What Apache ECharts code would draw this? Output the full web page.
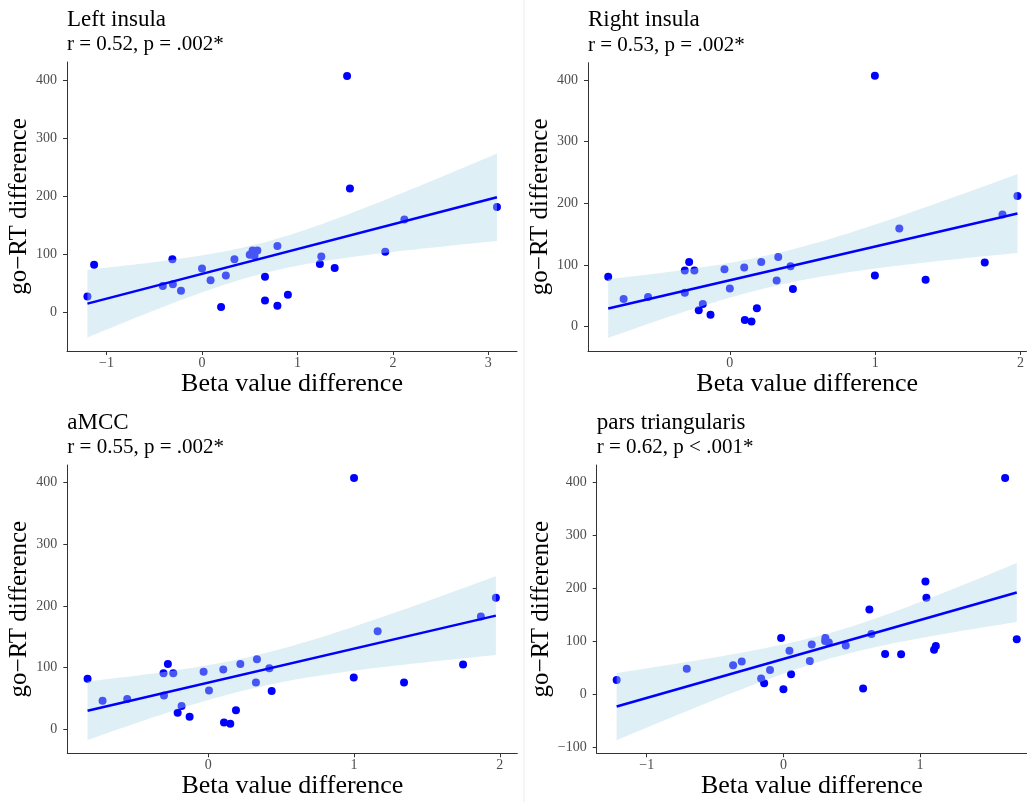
<!DOCTYPE html>
<html>
<head>
<meta charset="utf-8">
<script src="https://cdn.jsdelivr.net/npm/echarts@6/dist/echarts.min.js"></script>
<style>
  html, body { margin: 0; background: #fff; }
  #chart { width: 1027px; height: 802px; }
</style>
</head>
<body>
<div id="chart"></div>
<script>
// values
const leftInsulaX = [-1.20, -1.13, -0.41, -0.31, -0.305, -0.22, 0.00, 0.09, 0.20, 0.25, 0.34, 0.50, 0.53, 0.58,
  0.55, 0.66, 0.66, 0.79, 0.79, 0.90, 1.235, 1.25, 1.39, 1.52, 1.55, 1.92, 2.12, 3.09];
const leftInsulaY = [27, 81.5, 45, 91, 48, 37, 75, 55, 9, 63, 91, 99, 106, 106,
  97, 61, 20, 114, 11, 30, 83, 96, 76, 407, 213, 104, 159.5, 181];

const rightInsulaX = [-0.837, -0.731, -0.563, -0.31, -0.31, -0.28, -0.244, -0.214, -0.186, -0.133, -0.037, 0.00,
  0.099, 0.103, 0.149, 0.186, 0.216, 0.322, 0.333, 0.418, 0.434, 0.998, 0.998, 1.166, 1.347, 1.754, 1.876, 1.979];
const rightInsulaY = [81, 45, 48, 91, 55, 105, 91, 26.5, 37, 19.5, 93, 62,
  96, 11, 8.6, 30, 105, 75, 113, 98, 61, 407, 83, 159, 76, 104, 182, 212];

const amccX = [-0.828, -0.725, -0.556, -0.307, -0.304, -0.277, -0.24, -0.21, -0.183, -0.128, -0.032, 0.005,
  0.103, 0.108, 0.151, 0.19, 0.22, 0.327, 0.334, 0.419, 0.435, 1.00, 0.998, 1.162, 1.343, 1.748, 1.87, 1.973];
const amccY = [82, 46.5, 49, 91, 55, 106, 91, 27, 38, 20.5, 93.5, 63,
  97, 11, 9, 31, 106, 76, 113.5, 99, 62, 407.5, 84, 159, 76, 105, 183, 213.5];

const parsTriX = [-1.22, -0.707, -0.368, -0.305, -0.163, -0.141, -0.098, -0.017, 0.00, 0.044, 0.056, 0.193, 0.207,
  0.307, 0.305, 0.332, 0.456, 0.583, 0.629, 0.644, 0.744, 0.861, 1.039, 1.046, 1.102, 1.115, 1.622, 1.707];
const parsTriY = [27, 48, 55, 62, 30, 21, 46, 106, 9.4, 82, 38, 63, 94,
  106, 100.6, 97.5, 92, 11, 160, 114, 76, 75.5, 213, 182, 84, 91, 408, 104];

const titles = ['Left insula', 'Right insula', 'aMCC', 'pars triangularis'];
const stats = ['r = 0.52, p = .002*', 'r = 0.53, p = .002*', 'r = 0.55, p = .002*', 'r = 0.62, p < .001*'];

const xTicksLeft = [-1, 0, 1, 2, 3];
const xTicksShort = [0, 1, 2];
const xTicksPars = [-1, 0, 1];
const yTicks = [0, 100, 200, 300, 400];
const yTicksPars = [-100, 0, 100, 200, 300, 400];

const FONT = 'Liberation Serif';

// right-hand panels are cut off by the picture edge, so their grids stop at 1027px
const panels = [
  { x: leftInsulaX, y: leftInsulaY, xTicks: xTicksLeft, yTicks: yTicks,
    xMin: -1.414, xMax: 3.30, yMin: -67, yMax: 431, grid: { left: 67, top: 62, width: 450, height: 289 }, nameGap: 35 },
  { x: rightInsulaX, y: rightInsulaY, xTicks: xTicksShort, yTicks: yTicks,
    xMin: -0.976, xMax: 2.041, yMin: -39.4, yMax: 428, grid: { left: 588, top: 62.7, width: 439, height: 288.3 }, nameGap: 35 },
  { x: amccX, y: amccY, xTicks: xTicksShort, yTicks: yTicks,
    xMin: -0.967, xMax: 2.12, yMin: -38.9, yMax: 428.7, grid: { left: 67.3, top: 465, width: 450, height: 288.3 }, nameGap: 35 },
  { x: parsTriX, y: parsTriY, xTicks: xTicksPars, yTicks: yTicksPars,
    xMin: -1.366, xMax: 1.782, yMin: -111.3, yMax: 432.6, grid: { left: 596.7, top: 465, width: 430.3, height: 288.3 }, nameGap: 42 }
];

// linear fit with 95% confidence band, like geom_smooth(method = 'lm')
function fitBand(xs, ys) {
  const n = xs.length;
  const mx = xs.reduce((a, b) => a + b, 0) / n;
  const my = ys.reduce((a, b) => a + b, 0) / n;
  let sxx = 0, sxy = 0;
  for (let i = 0; i < n; i++) {
    sxx += (xs[i] - mx) * (xs[i] - mx);
    sxy += (xs[i] - mx) * (ys[i] - my);
  }
  const b = sxy / sxx, a = my - b * mx;
  let sse = 0;
  for (let i = 0; i < n; i++) sse += Math.pow(ys[i] - a - b * xs[i], 2);
  const s = Math.sqrt(sse / (n - 2));
  const t = 2.0555; // t(0.975, df = 26)
  const lo = Math.min(...xs), hi = Math.max(...xs);
  const band = [];
  for (let i = 0; i <= 80; i++) {
    const x = lo + (hi - lo) * i / 80;
    const f = a + b * x;
    const se = s * Math.sqrt(1 / n + (x - mx) * (x - mx) / sxx);
    band.push([x, f - t * se, f + t * se]);
  }
  return { line: [[lo, a + b * lo], [hi, a + b * hi]], band: band };
}

const minus = v => String(v).replace('-', '\u2212');

const option = { animation: false, title: [], grid: [], xAxis: [], yAxis: [], series: [],
  graphic: [{ type: 'line', shape: { x1: 524, y1: 0, x2: 524, y2: 802 }, style: { stroke: '#ececec', lineWidth: 1 } }] };

panels.forEach((p, i) => {
  const g = p.grid;
  option.title.push({ text: titles[i], left: g.left, top: g.top - 54, padding: 0,
    textStyle: { fontFamily: FONT, fontSize: 23, fontWeight: 'normal', color: '#000' } });
  option.title.push({ text: stats[i], left: g.left, top: g.top - 28, padding: 0,
    textStyle: { fontFamily: FONT, fontSize: 21, fontWeight: 'normal', color: '#000' } });
  option.grid.push(g);
  option.xAxis.push({
    type: 'value', gridIndex: i, min: p.xMin, max: p.xMax,
    name: 'Beta value difference', nameLocation: 'middle', nameGap: 19,
    nameTextStyle: { fontFamily: FONT, fontSize: 26, color: '#000' },
    axisLine: { onZero: false, lineStyle: { color: '#333', width: 1 } },
    axisTick: { customValues: p.xTicks, length: 4, lineStyle: { color: '#333' } },
    axisLabel: { customValues: p.xTicks, formatter: minus, margin: 5, fontFamily: FONT, fontSize: 14, color: '#4d4d4d' },
    splitLine: { show: false }
  });
  option.yAxis.push({
    type: 'value', gridIndex: i, min: p.yMin, max: p.yMax,
    name: 'go\u2212RT difference', nameLocation: 'middle', nameRotate: 90, nameGap: p.nameGap,
    nameTextStyle: { fontFamily: FONT, fontSize: 25, color: '#000' },
    axisLine: { show: true, onZero: false, lineStyle: { color: '#333', width: 1 } },
    axisTick: { show: true, customValues: p.yTicks, length: 4, lineStyle: { color: '#333' } },
    axisLabel: { customValues: p.yTicks, formatter: minus, margin: 10, fontFamily: FONT, fontSize: 14, color: '#4d4d4d' },
    splitLine: { show: false }
  });

  const fit = fitBand(p.x, p.y);
  option.series.push({
    type: 'scatter', xAxisIndex: i, yAxisIndex: i, z: 2, symbolSize: 8,
    itemStyle: { color: '#0000ff', opacity: 1 },
    data: p.x.map((x, k) => [x, p.y[k]])
  });
  option.series.push({
    type: 'custom', xAxisIndex: i, yAxisIndex: i, z: 3, silent: true,
    data: fit.band,
    renderItem: function (params, api) {
      if (params.dataIndex !== 0) return null;
      const upper = fit.band.map(d => api.coord([d[0], d[2]]));
      const lower = fit.band.map(d => api.coord([d[0], d[1]])).reverse();
      return { type: 'polygon', shape: { points: upper.concat(lower) },
        style: { fill: '#add8e6', opacity: 0.4 } };
    }
  });
  option.series.push({
    type: 'line', xAxisIndex: i, yAxisIndex: i, z: 4, showSymbol: false, silent: true,
    lineStyle: { color: '#0000ff', width: 2.5 },
    data: fit.line
  });
});

const chart = echarts.init(document.getElementById('chart'));
chart.setOption(option);
</script>
</body>
</html>
